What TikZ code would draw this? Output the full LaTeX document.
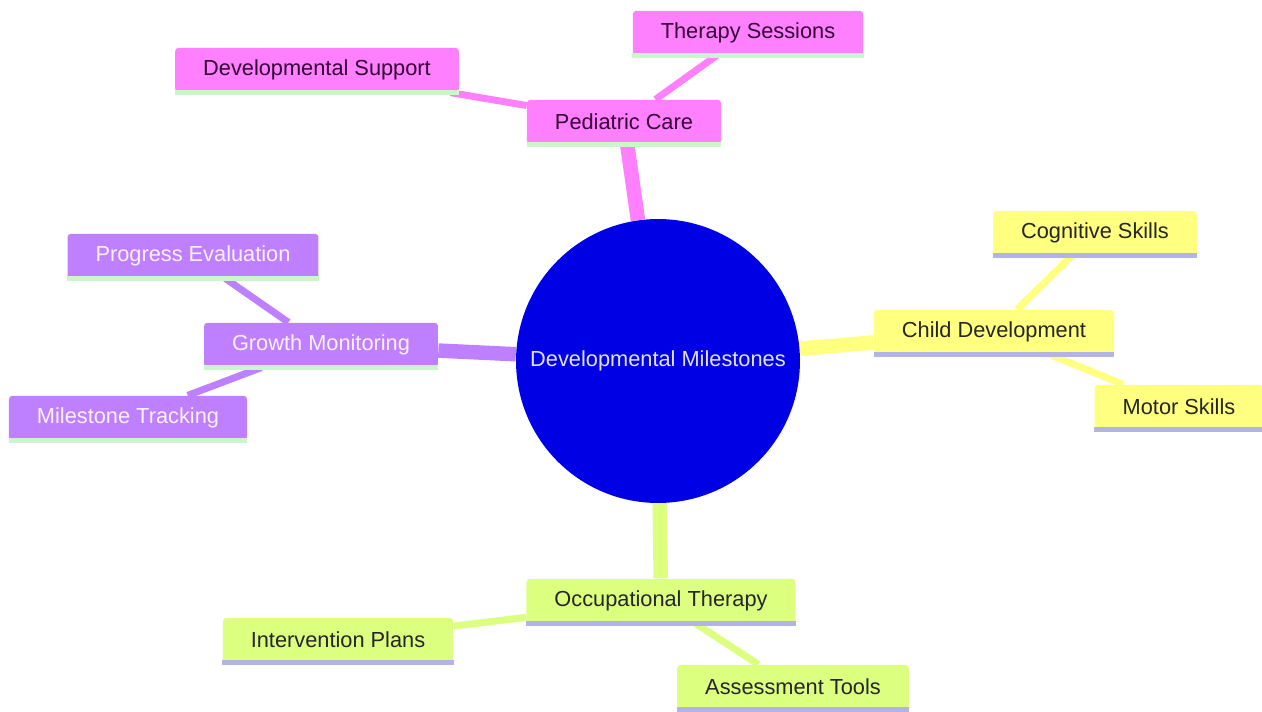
\documentclass[tikz,border=0pt]{standalone}
\usepackage{fontspec}
\setmainfont{Liberation Sans}
\usetikzlibrary{backgrounds}
\definecolor{pinkbox}{RGB}{255,128,255}
\definecolor{purplebox}{RGB}{191,128,255}
\definecolor{yellowbox}{RGB}{255,255,128}
\definecolor{limebox}{RGB}{221,255,128}
\definecolor{rootblue}{RGB}{0,0,228}
\definecolor{lineg}{RGB}{204,245,204}
\definecolor{linel}{RGB}{179,179,230}
\tikzset{
  box/.style={rectangle, rounded corners=2pt, inner xsep=0.56cm, minimum height=0.89cm, font=\fontsize{12.4}{14}\selectfont},
  pinkn/.style={box, fill=pinkbox, text={rgb,255:red,50;green,0;blue,50}},
  purplen/.style={box, fill=purplebox, text={rgb,255:red,250;green,240;blue,255}},
  yellown/.style={box, fill=yellowbox, text=black!85},
  limen/.style={box, fill=limebox, text=black!85},
  trunk/.style={line width=0.29cm},
  twig/.style={line width=0.14cm}
}
\begin{document}
\begin{tikzpicture}[x=0.02cm, y=-0.02cm]
            \useasboundingbox (0,0) rectangle (1262,711);
            \node[circle, fill=rootblue, minimum size=5.68cm, text={rgb,255:red,225;green,225;blue,255}, font=\fontsize{12.4}{14}\selectfont] (root) at (658,361) {Developmental Milestones};

            % pink branch
            \node[pinkn] (ped) at (624,122) {Pediatric Care};
            \node[pinkn] (devsup) at (317,70) {Developmental Support};
            \node[pinkn] (ther) at (748,33) {Therapy Sessions};

            % yellow branch
            \node[yellown] (child) at (994,332) {Child Development};
            \node[yellown] (cogn) at (1095,233) {Cognitive Skills};
            \node[yellown] (motor) at (1179,407) {Motor Skills};

            % purple branch
            \node[purplen] (growth) at (321,345) {Growth Monitoring};
            \node[purplen] (prog) at (193,256) {Progress Evaluation};
            \node[purplen] (mile) at (128,418) {Milestone Tracking};

            % lime branch
            \node[limen] (occ) at (661,601) {Occupational Therapy};
            \node[limen] (interv) at (338,640) {Intervention Plans};
            \node[limen] (assess) at (793,687) {Assessment Tools};

            \foreach \n in {ped,devsup,ther,growth,prog,mile}
                \draw[lineg, line width=3pt] (\n.south west) -- (\n.south east);
            \foreach \n in {child,cogn,motor,occ,interv,assess}
                \draw[linel, line width=3pt] (\n.south west) -- (\n.south east);

            \begin{pgfonlayer}{background}
                \draw[trunk, pinkbox] (root) -- (ped);
                \draw[trunk, yellowbox] (root) -- (child);
                \draw[trunk, purplebox] (root) -- (growth);
                \draw[trunk, limebox] (root) -- (occ);
                \draw[twig, pinkbox] (ped) -- (devsup);
                \draw[twig, pinkbox] (ped) -- (ther);
                \draw[twig, yellowbox] (child) -- (cogn);
                \draw[twig, yellowbox] (child) -- (motor);
                \draw[twig, purplebox] (growth) -- (prog);
                \draw[twig, purplebox] (growth) -- (mile);
                \draw[twig, limebox] (occ) -- (interv);
                \draw[twig, limebox] (occ) -- (assess);
            \end{pgfonlayer}
        \end{tikzpicture}
\end{document}
